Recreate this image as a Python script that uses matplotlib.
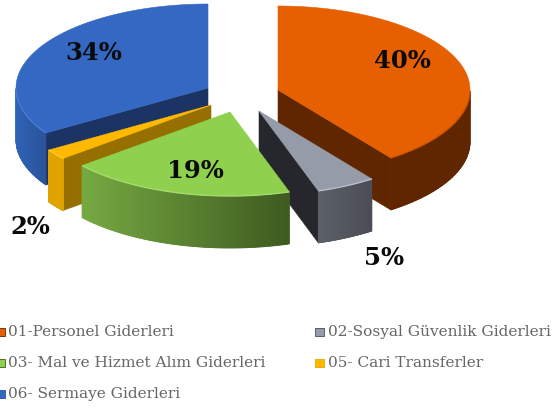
import numpy as np
import matplotlib
matplotlib.use('Agg')
import matplotlib.pyplot as plt
from matplotlib.collections import PolyCollection
from matplotlib.colors import to_rgb
from matplotlib.patches import Polygon, Rectangle

# Data
labels = ['01-Personel Giderleri', '02-Sosyal Güvenlik Giderleri',
          '03- Mal ve Hizmet Alım Giderleri', '05- Cari Transferler',
          '06- Sermaye Giderleri']
values = [40, 5, 19, 2, 34]
pct_labels = ['40%', '5%', '19%', '2%', '34%']

# Style of each slice: top, cut face, wall left, wall right, rim
top_colors = ['#E65F00', '#959BA8', '#8FD04F', '#FFB900', '#3568C2']
cut_colors = ['#5F2600', '#25272C', '#3E5A20', '#957000', '#1B3464']
wall_left = ['#5F2600', '#5C6069', '#76AA42', '#DFA400', '#2F63B8']
wall_right = ['#5F2600', '#4A4D55', '#3E5A20', '#DFA400', '#2A5298']
rim_colors = ['#C95300', '#BCC1CC', '#A8DC72', '#FFC933', '#4A7FD6']

# Where the apex of each exploded slice sits, and where its label goes
apex = [(278, 90), (259, 111), (230, 112), (211, 105), (208, 88)]
pct_pos = [(402, 61), (384, 258), (195, 171), (30, 227), (94, 53)]
draw_order = [4, 0, 3, 1, 2]

RX, RY, DEPTH = 192, 84, 52

fig = plt.figure(figsize=(5.52, 4.09), dpi=100, facecolor='white')
ax = fig.add_axes([0, 0, 1, 1])
ax.set_xlim(0, 552)
ax.set_ylim(409, 0)
ax.axis('off')


def rim_points(center, t):
    # t is clockwise from the top of the pie, in radians
    return np.column_stack([center[0] + RX * np.sin(t),
                            center[1] - RY * np.cos(t)])


def draw_slice(i, t0, t1):
    center = np.array(apex[i], dtype=float)
    drop = np.array([0, DEPTH])
    t = np.linspace(t0, t1, 120)
    rim = rim_points(center, t)

    # radial faces, only the ones turned to the viewer
    for angle, visible in ((t0, np.sin(t0) < 0), (t1, np.sin(t1) > 0)):
        if visible:
            p = rim_points(center, np.array([angle]))[0]
            ax.add_patch(Polygon([center, p, p + drop, center + drop],
                                 fc=cut_colors[i], ec=cut_colors[i], lw=0.4))

    # outer wall, shaded left to right
    front = t[np.cos(t) <= 0]
    if len(front) > 1:
        pts = rim_points(center, front)
        xs = pts[:, 0]
        span = max(xs.max() - xs.min(), 1)
        c0, c1 = np.array(to_rgb(wall_left[i])), np.array(to_rgb(wall_right[i]))
        if xs[0] > xs[-1]:
            pts = pts[::-1]
        # backing shape so the strips leave no seams
        ax.add_patch(Polygon(np.vstack([pts, pts[::-1] + drop]),
                             fc=(c0 + c1) / 2, ec='none'))
        quads, cols = [], []
        for a, b in zip(pts[:-1], pts[1:]):
            quads.append([a, b, b + drop, a + drop])
            f = (a[0] - pts[0, 0]) / span
            cols.append(c0 + (c1 - c0) * f)
        ax.add_collection(PolyCollection(quads, facecolors=cols,
                                         edgecolors=cols, linewidths=0.6))

    # top face
    ax.add_patch(Polygon(np.vstack([center, rim]), fc=top_colors[i],
                         ec=top_colors[i], lw=0.4))
    if len(front) > 1:
        edge = rim_points(center, front)
        ax.plot(edge[:, 0], edge[:, 1], color=rim_colors[i], lw=0.9,
                solid_capstyle='butt')


ends = np.cumsum(values) / np.sum(values) * 2 * np.pi
starts = np.concatenate([[0], ends[:-1]])
for i in draw_order:
    draw_slice(i, starts[i], ends[i])

for txt, pos in zip(pct_labels, pct_pos):
    ax.text(pos[0], pos[1], txt, family='DejaVu Serif', weight='bold',
            fontsize=17.5, color='#0A0A0A', ha='center', va='center')

# Legend, two columns
legend_x = [(-4, 8), (315, 328), (-4, 8), (315, 328), (-4, 8)]
legend_y = [332, 332, 363, 363, 394]
for i, name in enumerate(labels):
    mx, tx = legend_x[i]
    y = legend_y[i]
    ax.add_patch(Rectangle((mx, y - 4), 9, 8, fc=top_colors[i],
                           ec=wall_right[i], lw=0.6))
    ax.text(tx, y, name, family='DejaVu Serif', fontsize=11.1,
            color='#666666', ha='left', va='center')

fig.savefig('out.png', dpi=100, facecolor='white')
